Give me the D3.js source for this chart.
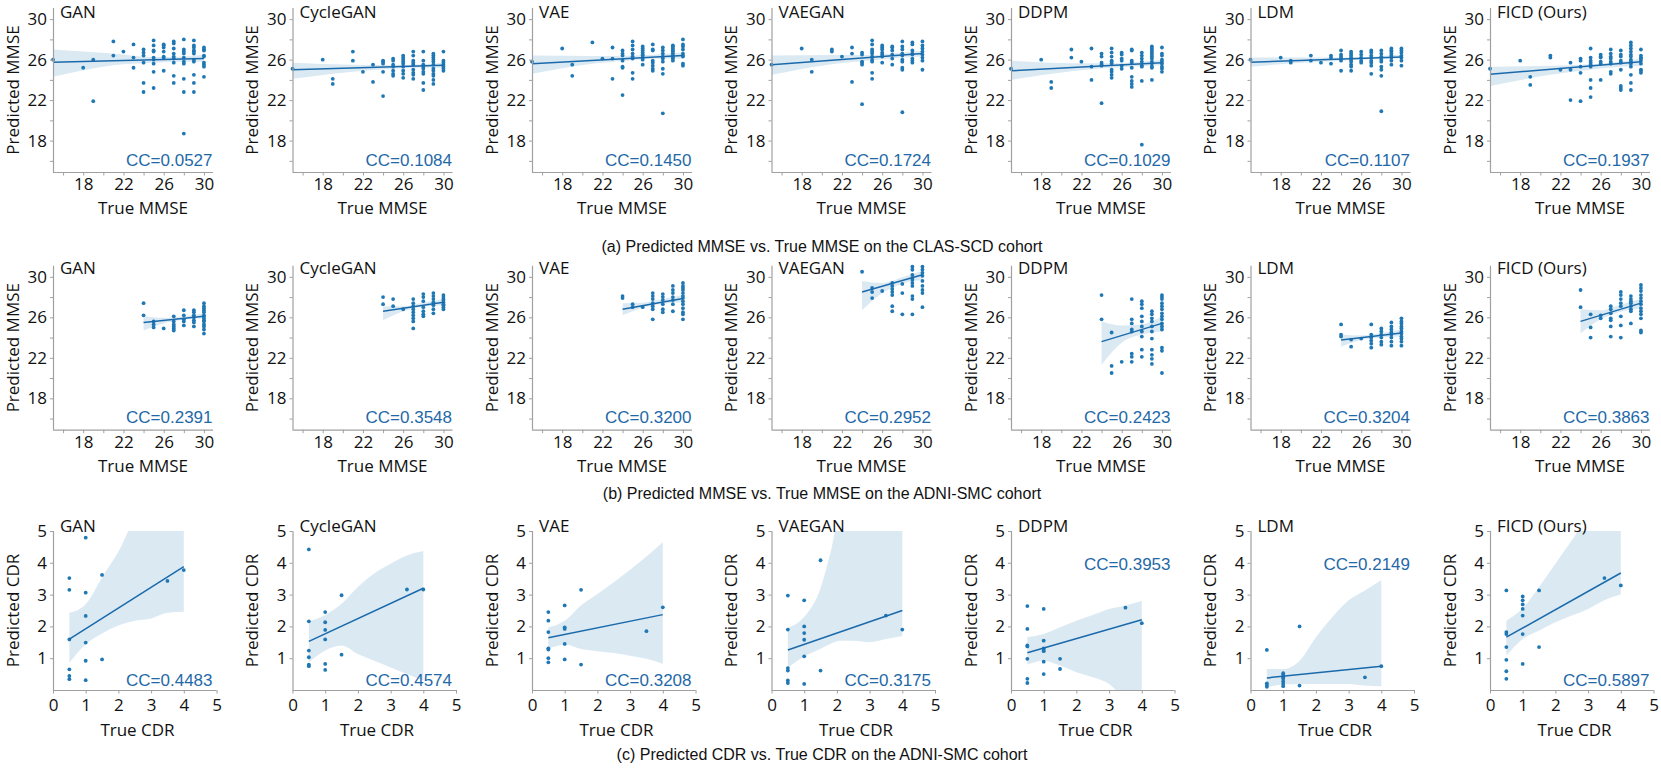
<!DOCTYPE html>
<html><head><meta charset="utf-8">
<script src="https://cdn.jsdelivr.net/npm/d3@7"></script>
<style>body{margin:0;background:#fff}svg{display:block}</style>
</head><body>
<svg id="c" width="1661" height="768"></svg>
<script>
const models = ["GAN","CycleGAN","VAE","VAEGAN","DDPM","LDM","FICD (Ours)"];
const ccA = ["0.0527","0.1084","0.1450","0.1724","0.1029","0.1107","0.1937"];
const ccB = ["0.2391","0.3548","0.3200","0.2952","0.2423","0.3204","0.3863"];
const ccC = ["0.4483","0.4574","0.3208","0.3175","0.3953","0.2149","0.5897"];
const ccTopC = [false,false,false,false,true,true,false];
const captions = ["(a) Predicted MMSE vs. True MMSE on the CLAS-SCD cohort",
  "(b) Predicted MMSE vs. True MMSE on the ADNI-SMC cohort",
  "(c) Predicted CDR vs. True CDR on the ADNI-SMC cohort"];
const mmseTicks = [16,18,20,22,24,26,28,30];
const mmseLabels = [18,22,26,30];
const cdrTicksX = [0,1,2,3,4,5];
const cdrTicksY = [1,2,3,4,5];

// Row (a): points grouped by true MMSE value
const pointsA = [
 [[15,[26.0]],[18,[25.2]],[19,[26.0,21.9]],[21,[27.8,26.4]],[22,[26.8]],[23,[27.5,26.2,25.2]],[24,[27.0,26.7,26.4,25.7,23.7,22.8]],[25,[27.9,27.4,26.9,26.8,26.2,26.0,25.6,24.8,23.2]],[26,[27.5,27.4,27.2,26.8,26.3,26.2,24.9]],[27,[27.8,27.6,27.1,26.6,26.3,26.1,25.7,24.4,23.7]],[28,[28.0,27.0,26.8,26.6,26.2,25.8,25.6,24.1,22.8,18.7]],[29,[27.9,27.4,27.2,26.9,26.8,26.6,26.0,25.8,24.5,23.7,22.8]],[30,[27.2,27.0,26.9,26.4,26.3,25.7,25.5,25.3,24.3]]],
 [[15,[25.1]],[18,[26.0]],[19,[24.1,23.6]],[21,[26.8,25.9]],[22,[24.8]],[23,[25.5,23.8]],[24,[25.9,25.8,25.6,24.8,22.4]],[25,[26.1,25.9,25.5,25.3,24.9,24.6,24.4]],[26,[26.4,26.2,26.0,25.8,25.6,25.3,24.9,24.6,24.2]],[27,[26.8,26.4,25.9,25.7,25.5,25.0,24.7,24.5,24.1]],[28,[26.8,25.9,25.5,25.3,25.1,24.8,24.6,23.7,23.0]],[29,[26.6,26.4,26.2,26.0,25.8,25.5,25.1,24.9,24.6,24.4,24.0,23.6]],[30,[26.8,25.9,25.7,25.5,25.3,25.1,24.9]]],
 [[15,[25.8]],[18,[27.1]],[19,[25.5,24.4]],[21,[27.7]],[22,[26.1]],[23,[27.2,26.1,24.1]],[24,[26.9,26.6,26.4,25.9,25.3,25.2,22.5]],[25,[27.8,27.4,27.0,26.6,26.3,26.1,24.7,24.1]],[26,[27.3,27.1,26.9,26.7,26.5,26.4,26.2,26.0,25.5]],[27,[27.5,27.0,26.9,25.9,25.7,25.4,25.1,24.9]],[28,[27.2,26.9,26.6,26.3,26.1,25.8,25.1,24.6,20.7]],[29,[27.4,27.3,27.1,26.9,26.8,26.6,26.4,26.2,26.1,25.9]],[30,[28.0,27.5,27.3,27.0,26.6,26.4,26.3,25.6,25.4]]],
 [[15,[25.5]],[18,[27.1]],[19,[26.0,24.8]],[21,[27.0,26.8]],[22,[26.3]],[23,[27.2,26.6,23.8]],[24,[26.7,26.5,25.8,25.7,25.5,21.6]],[25,[27.9,27.5,27.0,26.8,26.6,26.3,26.0,25.8,24.7,24.1]],[26,[27.4,27.2,27.0,26.7,26.5,26.3,25.7]],[27,[27.3,27.2,26.9,26.5,26.1,25.5]],[28,[27.8,27.3,27.0,26.6,26.4,26.0,25.8,25.2,25.0,20.8]],[29,[27.7,27.5,26.9,26.6,26.5,26.1,25.9,25.7]],[30,[27.8,27.4,27.1,26.8,26.5,26.2,25.9,25.0]]],
 [[15,[25.1]],[18,[26.0]],[19,[23.8,23.2]],[21,[27.0,26.2]],[22,[25.8]],[23,[27.1,25.3,24.0]],[24,[26.6,26.3,25.7,25.5,25.4,21.7]],[25,[27.1,26.7,26.3,25.9,25.8,25.6,25.0,24.8,24.5,24.2]],[26,[26.7,26.5,26.1,25.9,25.4,25.1]],[27,[27.0,26.9,25.9,25.7,25.2,24.3,23.9,23.6,23.3]],[28,[26.7,26.4,26.1,25.8,25.4,25.3,23.9,17.6]],[29,[27.3,27.1,26.9,26.7,26.5,26.3,26.1,25.8,25.6,25.3,25.2,24.0]],[30,[27.2,26.6,26.4,26.0,25.8,25.6,25.3,25.1,24.8]]],
 [[15,[26.0]],[18,[26.2]],[19,[25.9,25.7]],[21,[26.4,25.9]],[22,[25.7]],[23,[26.4,26.2,25.6]],[24,[26.9,26.5,26.3,26.1,25.9,24.9]],[25,[26.8,26.6,26.4,26.2,26.0,25.8,25.5,25.3,24.9]],[26,[26.8,26.5,26.2,25.9,25.7]],[27,[26.9,26.7,26.4,26.2,25.9,25.7,25.4,24.6]],[28,[26.9,26.6,26.3,26.0,25.8,25.3,25.0,24.4,20.9]],[29,[27.1,26.9,26.8,26.6,26.4,26.2,25.9,25.5]],[30,[27.1,26.9,26.7,26.4,26.2,25.9,25.4]]],
 [[15,[25.1]],[18,[25.9]],[19,[24.3,23.5]],[21,[26.4,26.2]],[22,[25.0]],[23,[25.7,25.0,22.0]],[24,[26.1,25.9,25.3,24.7,21.9]],[25,[27.1,26.2,25.9,25.7,25.5,25.3,24.0,23.2,22.3]],[26,[26.5,26.3,26.2,25.8,25.6,24.0]],[27,[27.0,26.6,26.3,26.1,25.8,25.6,24.8,24.6]],[28,[26.9,26.5,26.3,25.9,25.7,25.0,23.4,23.2,23.0]],[29,[27.7,27.4,27.1,26.8,26.5,26.3,26.0,25.8,25.6,25.3,24.5,23.7,23.0]],[30,[27.0,26.4,26.2,26.1,25.9,25.6,25.0,24.9,24.7]]]
];
const lineXA = [15,30];
const lineA = [[25.75,26.1],[25.0,25.45],[25.6,26.4],[25.5,26.6],[24.9,25.7],[25.75,26.25],[24.55,25.8]];
const bandA = [
 [[15,24.3,27.0],[21,25.45,26.6],[25,25.7,26.25],[28,25.8,26.3],[30,25.8,26.5]],
 [[15,24.1,25.7],[21,24.8,25.5],[25,25.1,25.45],[28,25.2,25.55],[30,25.2,25.7]],
 [[15,24.6,26.4],[21,25.6,26.35],[25,25.95,26.4],[28,26.1,26.55],[30,26.1,26.7]],
 [[15,24.5,26.4],[21,25.55,26.45],[25,25.95,26.45],[28,26.2,26.7],[30,26.3,26.9]],
 [[15,24.0,25.9],[21,24.85,25.65],[25,25.2,25.65],[28,25.35,25.8],[30,25.45,26.0]],
 [[15,25.3,26.2],[21,25.75,26.2],[25,25.95,26.2],[28,26.05,26.35],[30,26.1,26.5]],
 [[15,23.4,25.3],[21,24.5,25.4],[25,25.0,25.55],[28,25.3,25.8],[30,25.4,26.1]]
];

// Row (b)
const pointsB = [
 [[24,[27.4,26.2]],[25,[25.6,25.3,25.0]],[26,[24.9]],[27,[26.1,25.6,25.3,25.1,24.9,24.7]],[28,[26.7,26.2,25.8,25.6,25.2]],[29,[26.7,26.5,26.2,26.0,25.7,25.5,25.1]],[30,[27.4,27.1,26.9,26.7,26.5,26.2,26.1,25.9,25.7,25.6,25.3,25.1,24.8,24.4]]],
 [[24,[28.0,27.3]],[25,[27.8,27.1]],[26,[26.8]],[27,[27.8,27.4,27.1,26.8,26.5,26.2,25.9,25.6,24.9]],[28,[28.3,28.0,27.6,27.0,26.6,26.3,26.1]],[29,[28.4,28.1,27.8,27.5,27.2,26.8,26.4]],[30,[28.2,28.0,27.8,27.7,27.5,27.3,27.2,27.0,26.8]]],
 [[24,[28.1,27.9]],[25,[27.3,27.0]],[26,[27.0]],[27,[28.4,28.1,27.8,27.4,27.1,26.8,25.8]],[28,[28.3,28.0,27.7,27.3,26.8,26.5]],[29,[29.1,28.7,28.4,28.0,27.7,27.3,26.6]],[30,[29.4,29.1,28.9,28.7,28.4,28.1,27.9,27.6,27.3,26.9,26.5,26.3,25.8]]],
 [[24,[30.5]],[25,[28.9,28.5,27.9]],[26,[28.6]],[27,[29.4,29.1,28.8,28.5,28.2,27.1,26.6]],[28,[29.3,28.4,26.3]],[29,[31.0,30.7,30.2,29.9,29.7,29.4,29.1,28.1,27.8,26.3]],[30,[31.0,30.7,30.4,30.1,29.6,29.1,28.7,28.4,27.0]]],
 [[24,[28.2,25.8]],[25,[24.5,21.2,20.5]],[26,[21.6]],[27,[27.8,25.8,25.4,24.8,24.6,22.4,22.1,21.6]],[28,[27.6,27.3,26.9,26.1,25.6,25.1,24.6,24.1,22.8,22.1]],[29,[26.6,26.3,25.9,25.6,25.1,24.6,23.9,22.8,22.3,21.9,21.4]],[30,[28.2,28.0,27.8,27.4,27.1,26.8,26.4,26.1,25.8,25.4,25.1,24.8,23.0,22.7,20.5]]],
 [[24,[25.3,24.3,24.1]],[25,[23.8,23.1]],[26,[23.9]],[27,[25.3,24.3,24.0,23.7,23.4,23.0]],[28,[24.9,24.6,24.3,24.0,23.6,23.3]],[29,[25.5,25.1,24.8,24.5,24.3,24.0,23.6,23.2]],[30,[25.9,25.6,25.4,25.1,24.9,24.6,24.4,24.1,23.9,23.6,23.2]]],
 [[24,[28.7,27.0]],[25,[26.3,25.0,24.0]],[26,[26.2,25.9]],[27,[27.1,26.8,26.4,25.9,25.7,25.1,24.1]],[28,[28.5,28.2,27.8,27.4,27.1,26.1,25.2,24.0]],[29,[28.1,27.8,27.6,27.4,27.1,26.8,26.6,25.4]],[30,[29.2,28.9,28.6,28.2,27.9,27.6,27.3,26.9,26.6,26.3,25.9,24.7,24.5]]]
];
const lineXB = [24,30];
const lineB = [[25.5,26.1],[26.6,27.5],[26.8,27.85],[28.5,30.2],[23.6,25.4],[23.75,24.45],[25.6,27.4]];
const bandB = [
 [[24,24.7,26.1],[26,25.4,25.95],[28,25.75,26.1],[30,25.9,26.4]],
 [[24,25.7,27.1],[26,26.6,27.1],[28,27.05,27.45],[30,27.2,27.8]],
 [[24,26.2,27.4],[26,26.95,27.45],[28,27.35,27.8],[30,27.5,28.2]],
 [[24,26.7,29.6],[26,28.4,29.4],[28,29.3,29.95],[30,29.7,30.6]],
 [[24,21.3,25.6],[26,23.5,25.2],[28,24.3,25.3],[30,24.6,26.1]],
 [[24,23.1,24.3],[26,23.75,24.2],[28,24.0,24.45],[30,24.1,24.8]],
 [[24,24.4,26.8],[26,25.8,26.7],[28,26.55,27.25],[30,26.9,27.8]]
];

// Row (c)
const pointsC = [
 [[0.5,[3.52,3.15,1.59,0.65,0.44,0.34]],[1,[4.79,3.06,2.33,1.49,0.92,0.31]],[1.5,[3.62,0.96]],[3.5,[3.43]],[4,[3.77]]],
 [[0.5,[4.42,2.16,1.24,1.03,0.80,0.75]],[1,[2.45,2.13,1.89,1.59,0.82,0.63]],[1.5,[2.98,1.11]],[3.5,[3.16]],[4,[3.16]]],
 [[0.5,[2.45,2.18,1.82,1.31,1.27,1.0,0.87]],[1,[2.66,1.97,1.92,1.45,0.96]],[1.5,[3.15,0.80]],[3.5,[1.85]],[4,[2.6]]],
 [[0.5,[2.97,1.9,0.69,0.61,0.3,0.22]],[1,[2.82,2.0,1.79,1.58,1.06,0.19]],[1.5,[4.08,0.61]],[3.5,[2.34]],[4,[1.9]]],
 [[0.5,[2.64,1.92,1.40,1.37,0.98,0.35,0.22]],[1,[2.55,1.55,1.31,1.26,1.22,0.89,0.5]],[1.5,[0.98,0.66]],[3.5,[2.59]],[4,[2.1]]],
 [[0.5,[1.26,0.21,0.16,0.1]],[1,[0.53,0.48,0.40,0.35,0.27,0.19,0.12]],[1.5,[2.0,0.14]],[3.5,[0.4]],[4,[0.75]]],
 [[0.5,[3.13,1.82,1.76,1.35,0.95,0.59,0.35]],[1,[2.94,2.82,2.69,2.55,2.34,1.76,0.82]],[1.5,[3.13,1.35]],[3.5,[3.52]],[4,[3.29]]]
];
const lineXC = [0.5,4];
const lineC = [[1.6,3.88],[1.53,3.2],[1.64,2.37],[1.26,2.5],[1.17,2.21],[0.38,0.75],[1.66,3.68]];
const bandC = [
 [[0.5,0.86,2.43],[1,1.44,2.7],[1.5,1.78,3.54],[2,2.03,4.35],[2.5,2.18,5.3],[3,2.25,5.5],[3.5,2.43,5.5],[4,2.46,5.5]],
 [[0.5,0.87,2.16],[1,1.24,2.36],[1.5,1.40,2.71],[2,1.13,3.24],[2.5,0.92,3.66],[3,0.71,3.97],[3.5,0.5,4.23],[4,0.3,4.37]],
 [[0.5,1.29,1.97],[1,1.43,2.18],[1.5,1.29,2.66],[2,1.22,3.02],[2.5,1.16,3.39],[3,1.08,3.78],[3.5,0.98,4.2],[4,0.82,4.65]],
 [[0.5,0.7,1.95],[1,1.05,2.3],[1.5,1.3,3.2],[1.8,1.45,4.3],[2.1,1.55,5.5],[2.5,1.55,5.5],[3,1.5,5.5],[3.5,1.6,5.5],[4,1.7,5.5]],
 [[0.5,0.8,1.66],[1,0.92,1.76],[1.5,0.77,1.97],[2,0.56,2.18],[2.5,0.4,2.36],[3,0.19,2.55],[3.5,-0.3,2.66],[4,-0.5,2.8]],
 [[0.5,0.08,0.66],[1,0.17,0.66],[1.5,0.19,0.92],[2,0.19,1.66],[2.5,0.19,2.29],[3,0.19,2.82],[3.5,0.14,3.13],[4,0.12,3.45]],
 [[0.5,1.08,2.18],[1,1.6,2.57],[1.5,1.87,3.24],[2,2.13,3.97],[2.5,2.34,4.7],[3,2.55,5.4],[3.5,2.82,5.5],[4,3.0,5.5]]
];

// ---------- drawing ----------
const svg = d3.select("#c");
const FONT = "'Open Sans', 'DejaVu Sans', sans-serif";
const CCFONT = "'Liberation Sans', Arial, sans-serif";
const DOT = "#1f77b4", LINE = "#1a6aab", BAND = "rgba(31,119,180,0.16)", CCCOL = "#1f69a8", SPINE = "#a0a0a0";

const rows = [
  {pts: pointsA, lx: lineXA, ln: lineA, band: bandA, cc: ccA, top: 8, bot: 172,
   xd: [15,30.9], w: 160, yd: [14.9,31.1], xt: mmseTicks, xl: mmseLabels, yt: mmseTicks, yl: mmseLabels,
   xlab: "True MMSE", ylab: "Predicted MMSE", xlabDx: 90, tickPad: 6, xlabDy: 42, titleDy: 10.3, capY: 251.5},
  {pts: pointsB, lx: lineXB, ln: lineB, band: bandB, cc: ccB, top: 265.7, bot: 429.7,
   xd: [15,30.9], w: 160, yd: [14.9,31.1], xt: mmseTicks, xl: mmseLabels, yt: mmseTicks, yl: mmseLabels,
   xlab: "True MMSE", ylab: "Predicted MMSE", xlabDx: 90, tickPad: 6, xlabDy: 42, titleDy: 7.8, capY: 499},
  {pts: pointsC, lx: lineXC, ln: lineC, band: bandC, cc: ccC, top: 531, bot: 690,
   xd: [0,5], w: 163.5, yd: [0,5], xt: cdrTicksX, xl: cdrTicksX, yt: cdrTicksY, yl: cdrTicksY,
   xlab: "True CDR", ylab: "Predicted CDR", xlabDx: 84.5, tickPad: 8.5, xlabDy: 46, titleDy: 1.3, capY: 760}
];

rows.forEach((R, ri) => {
  models.forEach((m, i) => {
    const left = 53 + i * 239.5;
    const x = d3.scaleLinear().domain(R.xd).range([left, left + R.w]);
    const y = d3.scaleLinear().domain(R.yd).range([R.bot, R.top]);
    const g = svg.append("g");
    const cid = `clip${ri}_${i}`;
    svg.append("clipPath").attr("id", cid).append("rect")
      .attr("x", left).attr("y", R.top).attr("width", R.w).attr("height", R.bot - R.top);

    // band
    const area = d3.area().x(d => x(d[0])).y0(d => y(d[1])).y1(d => y(d[2])).curve(d3.curveMonotoneX);
    g.append("path").attr("d", area(R.band[i])).attr("fill", BAND).attr("clip-path", `url(#${cid})`);

    // points
    const flat = [];
    R.pts[i].forEach(([xv, ys]) => ys.forEach(yv => flat.push([xv, yv])));
    g.append("g").selectAll("circle").data(flat).join("circle")
      .attr("cx", d => x(d[0])).attr("cy", d => y(d[1])).attr("r", 1.9).attr("fill", DOT);

    // regression line
    g.append("line").attr("x1", x(R.lx[0])).attr("x2", x(R.lx[1]))
      .attr("y1", y(R.ln[i][0])).attr("y2", y(R.ln[i][1]))
      .attr("stroke", LINE).attr("stroke-width", 1.5);

    // axes
    const xa = d3.axisBottom(x).tickValues(R.xt).tickFormat(d => R.xl.includes(d) ? d : "")
      .tickSizeInner(3.5).tickSizeOuter(0).tickPadding(R.tickPad - 3.5);
    const ya = d3.axisLeft(y).tickValues(R.yt).tickFormat(d => R.yl.includes(d) ? d : "")
      .tickSizeInner(3).tickSizeOuter(0).tickPadding(3);
    const gx = g.append("g").attr("transform", `translate(0,${R.bot})`).call(xa);
    const gy = g.append("g").attr("transform", `translate(${left},0)`).call(ya);
    [gx, gy].forEach(a => {
      a.select(".domain").attr("stroke", SPINE).attr("stroke-width", 1.2);
      a.selectAll(".tick line").attr("stroke", SPINE).attr("stroke-width", 1);
      a.selectAll(".tick text").attr("fill", "#111").style("font-family", FONT).style("font-size", "17px");
    });
    gx.select(".domain").attr("d", `M${left},0.5H${left + R.w}`);
    gy.select(".domain").attr("d", `M0.5,${R.top}V${R.bot}`);

    // title
    g.append("text").attr("x", left + 7).attr("y", R.top + R.titleDy).text(m)
      .style("font-family", FONT).style("font-size", "17px").attr("fill", "#111");

    // axis labels
    g.append("text").attr("x", left + R.xlabDx).attr("y", R.bot + R.xlabDy).attr("text-anchor", "middle")
      .text(R.xlab).style("font-family", FONT).style("font-size", "17px").attr("fill", "#111");
    const cy = (R.top + R.bot) / 2;
    g.append("text").attr("transform", `translate(${left - 41},${cy}) rotate(-90)`)
      .attr("text-anchor", "middle").attr("dominant-baseline", "central")
      .text(R.ylab).style("font-family", FONT).style("font-size", "17px").attr("fill", "#111");

    // CC label
    const top = ri === 2 && ccTopC[i];
    g.append("text").attr("x", left + 159.5)
      .attr("y", top ? 569.5 : (ri === 2 ? R.bot - 4.3 : R.bot - 6.3))
      .attr("text-anchor", "end").text("CC=" + R.cc[i])
      .style("font-family", CCFONT).style("font-size", "17px").attr("fill", CCCOL);
  });
  svg.append("text").attr("x", 822).attr("y", R.capY).attr("text-anchor", "middle")
    .text(captions[ri]).style("font-family", CCFONT).style("font-size", "16px").attr("fill", "#111");
});
</script>
</body></html>
